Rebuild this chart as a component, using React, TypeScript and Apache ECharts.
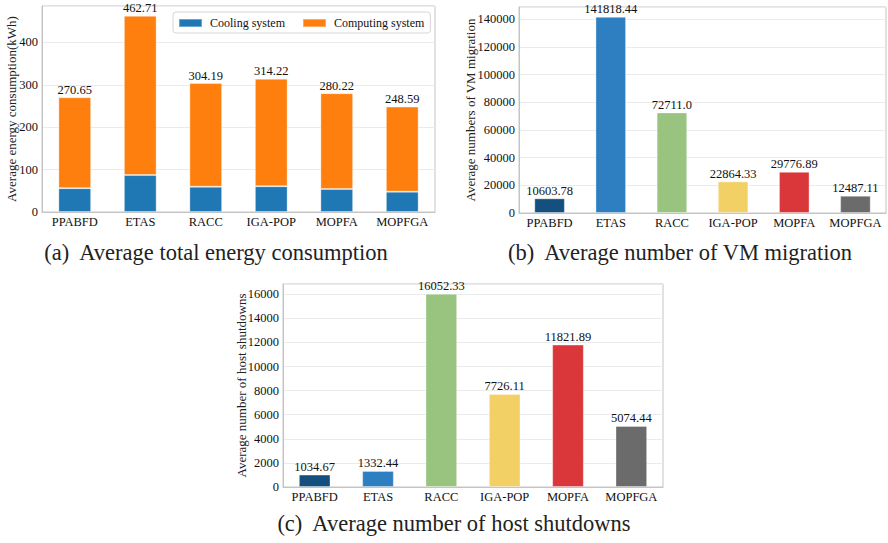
import React, { useEffect, useRef } from "react";
import * as echarts from "echarts";

const categories = ["PPABFD", "ETAS", "RACC", "IGA-POP", "MOPFA", "MOPFGA"];
const coolingEnergy = [56.2, 87.1, 59.6, 60.8, 54.1, 47.9];
const totalEnergy = [270.65, 462.71, 304.19, 314.22, 280.22, 248.59];
const vmMigrations = [10603.78, 141818.44, 72711.0, 22864.33, 29776.89, 12487.11];
const vmLabels = ["10603.78", "141818.44", "72711.0", "22864.33", "29776.89", "12487.11"];
const hostShutdowns = [1034.67, 1332.44, 16052.33, 7726.11, 11821.89, 5074.44];
const barColors = ["#154f7d", "#2e7ec2", "#98c47f", "#f2d065", "#da373a", "#6b6b6b"];
const captions = [
  "(a)  Average total energy consumption",
  "(b)  Average number of VM migration",
  "(c)  Average number of host shutdowns",
];

const FONT = "'Liberation Serif', 'Times New Roman', 'DejaVu Serif', serif";
const computingEnergy = totalEnergy.map((t, i) => +(t - coolingEnergy[i]).toFixed(2));

export default function App() {
  const ref = useRef<HTMLDivElement>(null);
  useEffect(() => {
    if (!ref.current) return;
    const chart = echarts.init(ref.current, null, { renderer: "svg" });
    const grids = [
      { left: 42, top: 6, width: 393, height: 206 },
      { left: 519, top: 7, width: 367, height: 206 },
      { left: 283, top: 284, width: 380, height: 203 },
    ];
    const xAxis = grids.map((_, i) => ({
      type: "category",
      gridIndex: i,
      data: categories,
      axisLine: { lineStyle: { color: "#c4c4c4" } },
      axisTick: { show: false },
      axisLabel: { color: "#111", fontFamily: FONT, fontSize: 12.5, margin: 3, interval: 0 },
    }));
    const yDefs = [
      { max: Math.max(...totalEnergy) * 1.05, interval: 100, name: "Average energy consumption(kWh)", gap: 24 },
      { max: Math.max(...vmMigrations) * 1.05, interval: 20000, name: "Average numbers of VM migration", gap: 42 },
      { max: Math.max(...hostShutdowns) * 1.05, interval: 2000, name: "Average number of host shutdowns", gap: 35 },
    ];
    const yAxis = yDefs.map((d, i) => ({
      type: "value",
      gridIndex: i,
      min: 0,
      max: d.max,
      interval: d.interval,
      name: d.name,
      nameLocation: "middle",
      nameGap: d.gap,
      nameMoveOverlap: false,
      nameTextStyle: { color: "#222", fontFamily: FONT, fontSize: 13 },
      axisLine: { show: true, lineStyle: { color: "#c4c4c4" } },
      axisTick: { show: false },
      axisLabel: {
        color: "#111",
        fontFamily: FONT,
        fontSize: 12.5,
        margin: 4,
        showMaxLabel: false,
        formatter: (v: number) => String(v),
      },
      splitLine: { lineStyle: { color: "#ebebeb" } },
    }));
    const labelStyle = { show: true, position: "top", distance: 1, color: "#111", fontFamily: FONT, fontSize: 12.5 };
    const edge = { borderColor: "rgba(255,255,255,0.35)", borderWidth: 1 };
    const series: any[] = [
      {
        name: "Cooling system",
        type: "bar",
        stack: "e",
        xAxisIndex: 0,
        yAxisIndex: 0,
        barWidth: "50%",
        data: coolingEnergy,
        itemStyle: { color: "#1f77b4", ...edge },
      },
      {
        name: "Computing system",
        type: "bar",
        stack: "e",
        xAxisIndex: 0,
        yAxisIndex: 0,
        barWidth: "50%",
        data: computingEnergy,
        itemStyle: { color: "#ff7f0e", ...edge },
        label: { ...labelStyle, formatter: (p: any) => totalEnergy[p.dataIndex].toFixed(2) },
      },
      {
        type: "bar",
        xAxisIndex: 1,
        yAxisIndex: 1,
        barWidth: "50%",
        data: vmMigrations.map((v, i) => ({ value: v, itemStyle: { color: barColors[i], ...edge } })),
        label: { ...labelStyle, formatter: (p: any) => vmLabels[p.dataIndex] },
      },
      {
        type: "bar",
        xAxisIndex: 2,
        yAxisIndex: 2,
        barWidth: "50%",
        data: hostShutdowns.map((v, i) => ({ value: v, itemStyle: { color: barColors[i], ...edge } })),
        label: { ...labelStyle, formatter: (p: any) => p.value.toFixed(2) },
      },
    ];
    const capPos = [
      [216, 252],
      [680, 252],
      [454, 523],
    ];
    chart.setOption({
      animation: false,
      backgroundColor: "#fff",
      grid: grids.map((g) => ({
        ...g,
        show: true,
        containLabel: false,
        outerBoundsMode: "none",
        borderColor: "#c4c4c4",
        borderWidth: 1,
        backgroundColor: "transparent",
      })),
      xAxis,
      yAxis,
      legend: {
        data: ["Cooling system", "Computing system"],
        left: 173,
        top: 12,
        itemWidth: 23,
        itemHeight: 8,
        itemGap: 17,
        padding: [5, 6, 4, 5],
        borderColor: "#d6d6d6",
        borderWidth: 1,
        borderRadius: 3,
        backgroundColor: "#fff",
        textStyle: { color: "#111", fontFamily: FONT, fontSize: 12, padding: [0, 0, 0, 3] },
        icon: "rect",
      },
      series,
      graphic: captions.map((c, i) => ({
        type: "text",
        x: capPos[i][0],
        y: capPos[i][1],
        style: {
          text: c,
          fill: "#222",
          fontFamily: FONT,
          fontSize: 22.5,
          textAlign: "center",
          textVerticalAlign: "middle",
        },
      })),
    });
    return () => chart.dispose();
  }, []);
  return <div ref={ref} style={{ position: "fixed", left: 0, top: 0, width: 888, height: 543 }} />;
}
